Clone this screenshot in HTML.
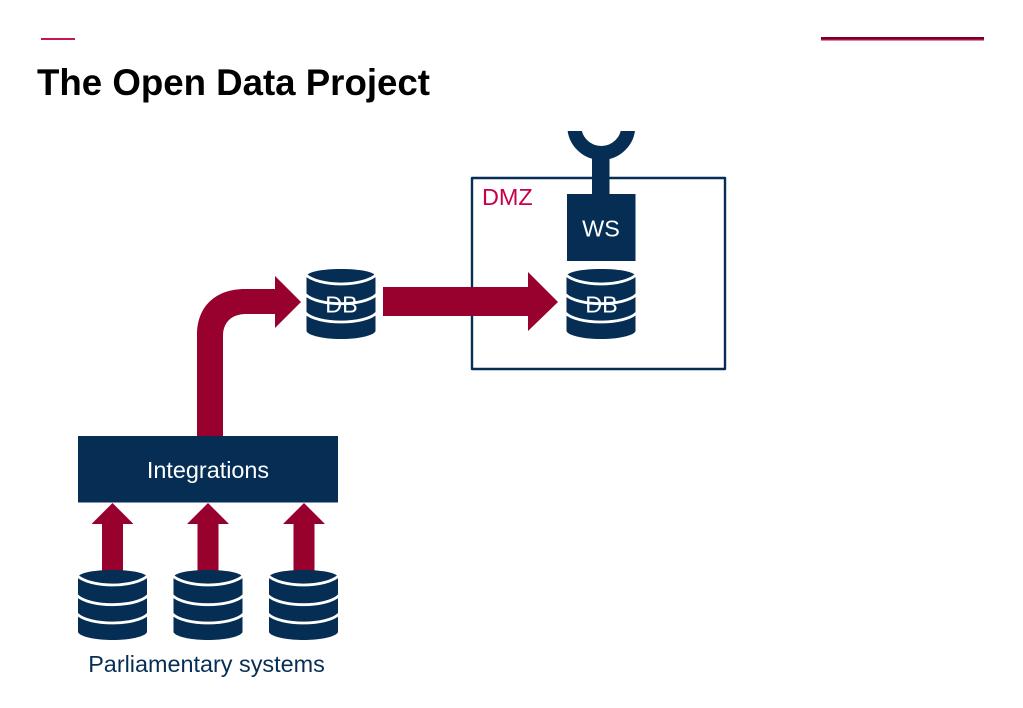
<!DOCTYPE html>
<html><head><meta charset="utf-8"><style>
html,body{margin:0;padding:0;background:#fff;width:1023px;height:708px;overflow:hidden}
svg{display:block}
text{font-family:"Liberation Sans",sans-serif}
</style></head><body>
<svg width="1023" height="708" viewBox="0 0 1023 708" xmlns="http://www.w3.org/2000/svg">
<defs>
<g id="cyl">
<path d="M0 7C1 3 15 0 34.500 0S68 3 69 7V62C68 66 54 70 34.500 70S1 66 0 62Z" fill="#062e55"/>
<g fill="none" stroke="#fff" stroke-width="2.800">
<path d="M-1 5.500C5 11.500 20 15 34.500 15S64 11.500 70 5.500"/>
<path d="M-1 25.500C5 31.500 20 34.700 34.500 34.700S64 31.500 70 25.500"/>
<path d="M-1 44C5 50 20 53 34.500 53S64 50 70 44"/>
</g>
</g>
<clipPath id="c"><rect x="550" y="131" width="100" height="70"/></clipPath>
</defs>
<rect x="41" y="38" width="34" height="2" fill="#c4184c"/>
<rect x="821" y="37" width="163" height="2" fill="#7a0026"/>
<rect x="821" y="39" width="163" height="1.500" fill="#b00f40"/>
<text x="37" y="95" font-size="36.650" font-weight="700" fill="#000">The Open Data Project</text>

<rect x="472" y="178" width="253" height="191" fill="none" stroke="#062e55" stroke-width="2.400" stroke-linejoin="round"/>
<text x="482" y="205" font-size="23.400" fill="#c8004a">DMZ</text>

<circle cx="601.300" cy="126" r="27" fill="none" stroke="#062e55" stroke-width="14" clip-path="url(#c)"/>
<rect x="592" y="155" width="17.500" height="40" fill="#062e55"/>
<rect x="567" y="194" width="68.500" height="67" fill="#062e55"/>
<text x="601" y="236.500" font-size="23.400" fill="#fff" text-anchor="middle">WS</text>

<use href="#cyl" x="566.500" y="269"/>
<text x="601.500" y="312.500" font-size="23.400" fill="#fff" text-anchor="middle">DB</text>
<use href="#cyl" x="306.500" y="269"/>
<text x="341.500" y="312.500" font-size="23.400" fill="#fff" text-anchor="middle">DB</text>

<path d="M383 287H528V272L558 302 528 331V316H383Z" fill="#98002e"/>
<path d="M197 436V335C197 306 216 289 245 289H275V276L301 302 275 328V314H246C232 314 223 322 223 336V436Z" fill="#98002e"/>

<rect x="78" y="436" width="260" height="66.500" fill="#062e55"/>
<text x="208" y="478" font-size="23.400" fill="#fff" text-anchor="middle">Integrations</text>

<g fill="#98002e">
<path d="M112.500 503L133.500 524H123V572H102V524H91.500Z"/>
<path d="M208 503L229 524H218.500V572H197.500V524H187Z"/>
<path d="M304 503L325 524H314.500V572H293.500V524H283Z"/>
</g>
<use href="#cyl" x="78" y="570"/>
<use href="#cyl" x="173.500" y="570"/>
<use href="#cyl" x="269" y="570"/>
<text x="206.500" y="672" font-size="23.400" fill="#062e55" text-anchor="middle">Parliamentary systems</text>
</svg>
</body></html>
